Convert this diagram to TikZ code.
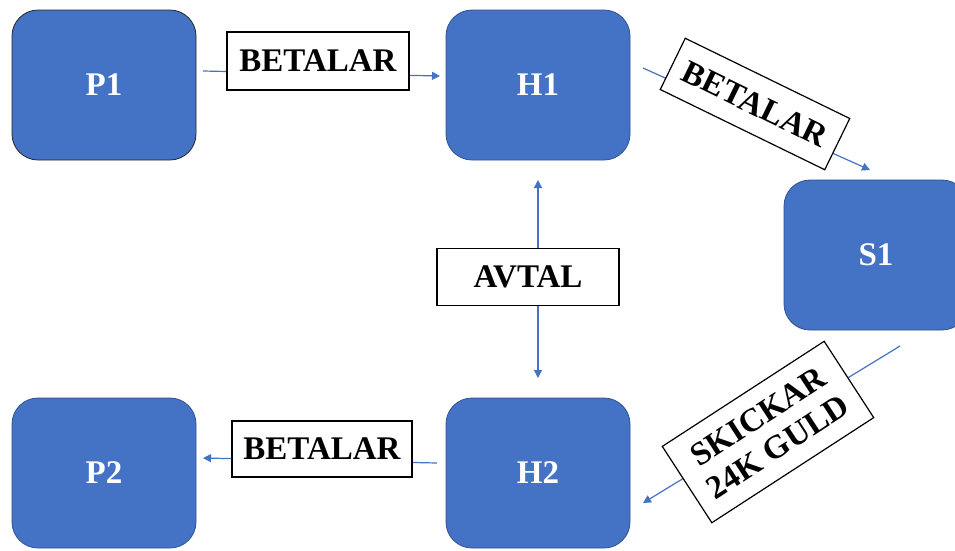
\documentclass[tikz,border=0pt]{standalone}
\usepackage{fontspec}
\setmainfont{Liberation Serif}
\usetikzlibrary{arrows.meta}
\definecolor{obl}{HTML}{4472C4}
\definecolor{obd}{HTML}{2F528F}
\pgfdeclarelayer{bg}
\pgfsetlayers{bg,main}
\begin{document}
\begin{tikzpicture}[x=1pt,y=-1pt,
  box/.style={draw=obd,line width=0.8pt,fill=obl,rounded corners=26pt,minimum width=184pt,minimum height=150pt,inner sep=0pt,text=white,font=\fontsize{33}{36}\selectfont\bfseries},
  lbl/.style={draw=black,line width=1.2pt,fill=white,inner sep=0pt,align=center,font=\fontsize{33}{36}\selectfont\bfseries},
  arr/.style={draw=obl,line width=1.2pt,-{Triangle[width=8pt,length=8pt]}}]
\useasboundingbox (0,0) rectangle (955,550);
\clip (0,0) rectangle (955,550);
\node[box,draw=black!85] (P1) at (104,85) {P1};
\node[box] (H1) at (538,85) {H1};
\node[box] (S1) at (876,255) {S1};
\node[box] (P2) at (104,473) {P2};
\node[box] (H2) at (538,473) {H2};
\node[lbl,minimum width=182pt,minimum height=58pt] (L1) at (318,61) {BETALAR};
\node[lbl,minimum width=183pt,minimum height=57pt,rotate=-26] (L2) at (755,104) {BETALAR};
\node[lbl,minimum width=193pt,minimum height=91pt,rotate=33] (L3) at (768,432) {SKICKAR\\24K GULD};
\node[lbl,minimum width=180pt,minimum height=56pt] (L4) at (322,449) {BETALAR};
\node[lbl,minimum width=182pt,minimum height=57pt] (L5) at (528,277) {AVTAL};
\coordinate (a1s) at (203,71);
\coordinate (a1e) at (440,76);
\coordinate (a2s) at (643,68);
\coordinate (a2e) at (870,170);
\coordinate (a3s) at (900,346);
\coordinate (a3e) at (643,503);
\coordinate (a4s) at (437,463);
\coordinate (a4e) at (203,458);
\coordinate (a5s) at (538,277);
\coordinate (a5u) at (538,180);
\coordinate (a5d) at (538,378);
\begin{pgfonlayer}{bg}
\fill[white] (0,0) rectangle (955,550);
\draw[arr] (a1s) -- (a1e);
\draw[arr] (a2s) -- (a2e);
\draw[arr] (a3s) -- (a3e);
\draw[arr] (a4s) -- (a4e);
\draw[arr] (a5s) -- (a5u);
\draw[arr] (a5s) -- (a5d);
\end{pgfonlayer}
\end{tikzpicture}
\end{document}
